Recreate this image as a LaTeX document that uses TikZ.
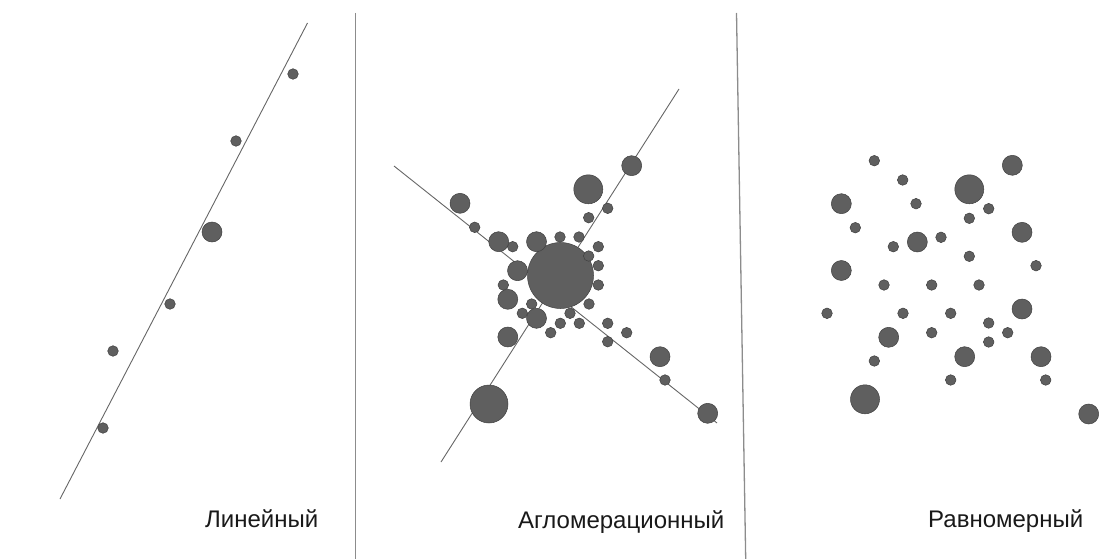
\documentclass[tikz,border=0pt]{standalone}
\usepackage{fontspec}
\setmainfont{Liberation Sans}
\definecolor{dotfill}{HTML}{5F5F5F}
\definecolor{dotedge}{HTML}{404040}
\definecolor{axisline}{HTML}{666666}
\definecolor{divline}{HTML}{8C8C8C}
\begin{document}
\begin{tikzpicture}[x=1pt,y=-1pt,
  dot/.style={fill=dotfill,draw=dotedge,line width=0.5pt},
  axis/.style={draw=axisline,line width=0.9pt},
  divider/.style={draw=divline,line width=1.3pt},
  caption/.style={anchor=base west,inner sep=0pt,font=\fontsize{24}{28}\selectfont,text=black!90}]
\useasboundingbox (0,0) rectangle (1118,559);
% dividers
\coordinate (d1t) at (355.3,13);
\coordinate (d1b) at (355.3,559);
\coordinate (d2t) at (736.5,13);
\coordinate (d2b) at (745.7,559);
\draw[divider] (d1t) -- (d1b);
\draw[divider] (d2t) -- (d2b);
% panel 1 line
\coordinate (l1a) at (60,499);
\coordinate (l1b) at (307.5,23);
\draw[axis] (l1a) -- (l1b);
% panel 2 lines
\coordinate (l2a) at (679,89);
\coordinate (l2b) at (441,462);
\coordinate (l3a) at (394,166);
\coordinate (l3b) at (717,423);
\draw[axis] (l2a) -- (l2b);
\draw[axis] (l3a) -- (l3b);
% panel 1 dots
\foreach \p in {(293,74),(236,141),(170,304),(113,351),(103,428)}
  \draw[dot] \p circle (5.3);
\draw[dot] (212,232) circle (10);
% panel 2 dots
\draw[dot] (560.5,275.5) circle (33);
\foreach \p in {(474.7,227.3),(512.7,246.7),(560,237),(579,237),(598.3,246.7),(588.7,256),(598.3,265.7),(598.3,285),(607.7,208.3),(588.7,217.7),(503.3,285),(522.3,313.3),(531.7,304),(550.7,332.7),(560.3,323.3),(570,313.3),(579.3,323.3),(589,304),(607.7,323.3),(626.7,332.7),(607.7,341.7),(665,380)}
  \draw[dot] \p circle (5.3);
\foreach \p in {(631.7,165.7),(460,203.3),(498.7,241.7),(536.5,241.7),(517.5,270.7),(507.8,299.3),(536.5,318.3),(507.8,337),(660,356.7),(707.7,413.3)}
  \draw[dot] \p circle (10);
\draw[dot] (588.3,189.3) circle (14.5);
\draw[dot] (489,404) circle (19);
% panel 3 dots
\foreach \p in {(874.3,160.7),(902.7,180),(988.7,208.7),(916,203.7),(969.3,218.3),(855.3,227.7),(893.3,246.7),(941,237.3),(969.3,256.3),(1036,265.7),(884,285),(931.7,285),(979,285),(827,313.3),(903,313.3),(950.7,313.3),(988.7,323),(1007.7,332.7),(988.7,342),(931.7,332.7),(874.3,361),(950.7,380),(1045.7,380)}
  \draw[dot] \p circle (5.3);
\foreach \p in {(1012.3,165.3),(841.3,203.7),(1022,232.3),(917.3,242),(841.3,270.5),(1022,309),(888.7,337.3),(964.7,356.7),(1041,356.7),(1088.7,414)}
  \draw[dot] \p circle (10);
\draw[dot] (969.3,189.3) circle (14.5);
\draw[dot] (865,399.3) circle (14.5);
% captions
\node[caption] (c1) at (205,527.5) {Линейный};
\node[caption] (c2) at (518,528) {Агломерационный};
\node[caption] (c3) at (928,527.5) {Равномерный};
\end{tikzpicture}
\end{document}
